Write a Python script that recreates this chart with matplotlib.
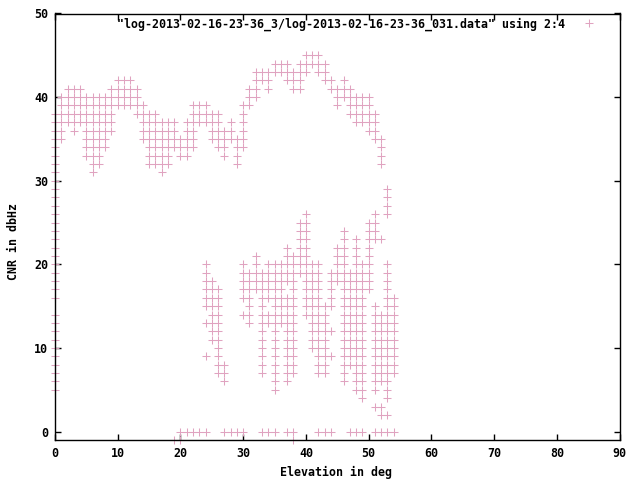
#!/usr/bin/env python3
import numpy as np
import matplotlib
matplotlib.use('Agg')
import matplotlib.pyplot as plt

# CNR values logged at elevation 0 (left edge column)
edge_cnr = list(range(5, 15)) + list(range(16, 39))

# upper cluster: CNR level -> elevation runs
top_rows = {
    45: "40-42",
    44: "35-37,39-43",
    43: "32-40,42-43",
    42: "10-12,32-34,37-39,43-44,46",
    41: "2-4,9-13,31-32,34,38-39,44-47",
    40: "1-13,31-32,45-50",
    39: "1-14,22-24,30-31,45,47-50",
    38: "1-9,13-16,22-26,30,47-51",
    37: "1-9,14-19,21-26,28,30,48-51",
    36: "1,3,5-9,14-19,21-22,25-28,30,50-51",
    35: "1,5-8,14-22,25-30,51-52",
    34: "5-8,15-22,26-27,29-30,52",
    33: "5-7,15-18,20-21,27,29,52",
    32: "6-7,15-18,29,52",
    31: "6,17",
    29: "53",
    28: "53",
    27: "53",
}

# lower cluster
bottom_rows = {
    26: "40,51,53",
    25: "39-40,50-51",
    24: "39-40,46,50-51",
    23: "39-40,46,48,50-52",
    22: "37,39-40,45-46,48,50",
    21: "32,37-40,45-46,48,50",
    20: "24,30,32,34-42,45-46,48-50,53",
    19: "24,30-42,44-50,53",
    18: "24-25,30-38,40-42,44-50,53",
    17: "24-26,30-36,38,40-42,44,46-50,53",
    16: "24-26,30-31,33-38,40-42,44,46-49,53-54",
    15: "24-26,31,33,35-38,40-44,46-49,51,53-54",
    14: "25-26,30-31,33-38,40-43,46-49,51-54",
    13: "24-26,31,33-38,41-43,46-49,51-54",
    12: "25-26,33,35,37-38,41-44,46-49,51-54",
    11: "25-26,33,35,37-38,41-43,46-49,51-54",
    10: "26,33,35,37-38,41-43,46-49,51-54",
    9: "24,26,33,35,37-38,42-44,46-49,51-54",
    8: "26-27,33,35,37-38,42-43,46-49,51-54",
    7: "26-27,33,35,37-38,42-43,46,48-49,51-54",
    6: "27,35,37,46,48-49,51-53",
    5: "35,48-49,51,53",
    4: "49,53",
    3: "51-52",
    2: "52-53",
    0: "20-24,27-30,33-35,37-38,42-44,47-49,51-54",
    -1: "19-20,38",
}

legend_text = '"log-2013-02-16-23-36_3/log-2013-02-16-23-36_031.data" using 2:4'


def expand(spec):
    out = []
    for part in spec.split(','):
        if '-' in part:
            a, b = part.split('-')
            out.extend(range(int(a), int(b) + 1))
        else:
            out.append(int(part))
    return out


elev, cnr = [], []
for c in edge_cnr:
    elev.append(0)
    cnr.append(c)
for rows in (top_rows, bottom_rows):
    for c, spec in rows.items():
        for e in expand(spec):
            elev.append(e)
            cnr.append(c)

fsize = 8.4
font = dict(family='DejaVu Sans Mono', weight='bold', size=fsize)
col = '#e0a3c0'

fig = plt.figure(figsize=(6.4, 4.8), dpi=100)
ax = fig.add_axes([55 / 640, 40 / 480, 564.5 / 640, 426.5 / 480])

pts, = ax.plot(elev, cnr, linestyle='none', marker='+', markersize=5.2,
               markeredgewidth=0.75, color=col, clip_on=False,
               label=legend_text)

ax.set_xlim(0, 90)
ax.set_ylim(-1, 50)
ax.set_xticks(np.arange(0, 91, 10))
ax.set_yticks(np.arange(0, 51, 10))
ax.tick_params(direction='in', length=4, width=1, top=True, right=True,
               pad=5, labelsize=fsize)
for lab in ax.get_xticklabels() + ax.get_yticklabels():
    lab.set_fontfamily('DejaVu Sans Mono')
    lab.set_fontweight('bold')
for s in ax.spines.values():
    s.set_linewidth(1)

fig.text(336 / 640, 1 - 472 / 480, 'Elevation in deg', ha='center', va='center', **font)
fig.text(14 / 640, 1 - 241 / 480, 'CNR in dbHz', ha='center', va='center',
         rotation=90, **font)

leg = ax.legend(handles=[pts], loc='center right',
                bbox_to_anchor=(598 / 640, 1 - 24 / 480),
                bbox_transform=fig.transFigure, frameon=False,
                markerfirst=False, handlelength=1.5, handletextpad=1.3,
                borderpad=0, borderaxespad=0,
                prop=dict(family='DejaVu Sans Mono', weight='bold', size=fsize))

plt.savefig('out.png', dpi=100)
